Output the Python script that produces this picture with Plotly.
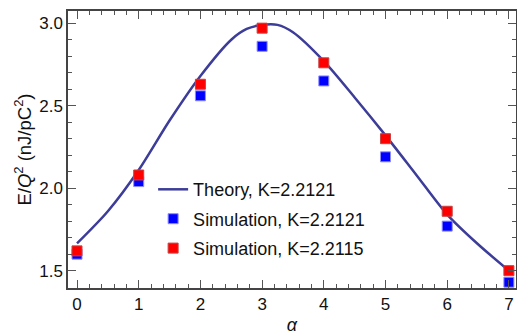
import plotly.graph_objects as go

# Data
alpha_sim = [0, 1, 2, 3, 4, 5, 6, 7]
sim_k2121 = [1.60, 2.04, 2.56, 2.86, 2.65, 2.19, 1.77, 1.43]
sim_k2115 = [1.62, 2.08, 2.63, 2.97, 2.76, 2.30, 1.86, 1.50]

alpha_theory = [0, 0.5, 1, 1.5, 2, 2.5, 2.75, 3, 3.25, 3.5, 4, 4.5, 5, 5.5, 6, 6.5, 7]
theory_k2121 = [1.665, 1.86, 2.11, 2.41, 2.68, 2.90, 2.965, 2.99, 2.99, 2.945, 2.77,
                2.55, 2.32, 2.08, 1.84, 1.66, 1.50]

FONT = "Liberation Sans, Arial, Helvetica, sans-serif"

fig = go.Figure()
fig.add_trace(go.Scatter(
    x=alpha_theory, y=theory_k2121, mode="lines",
    name="Theory, K=2.2121", legendgroup="a",
    line=dict(color="#3c3c99", width=2.5, shape="spline", smoothing=0.8),
))
fig.add_trace(go.Scatter(
    x=alpha_sim, y=sim_k2121, mode="markers",
    name="Simulation, K=2.2121", legendgroup="b",
    marker=dict(symbol="square", size=10, color="#0000ff",
                line=dict(color="#8c8cff", width=1)),
))
fig.add_trace(go.Scatter(
    x=alpha_sim, y=sim_k2115, mode="markers",
    name="Simulation, K=2.2115", legendgroup="c",
    marker=dict(symbol="square", size=10, color="#ff0000",
                line=dict(color="#c84040", width=1)),
))

axis_common = dict(
    showline=True, linecolor="#444444", linewidth=1.5, mirror="ticks",
    ticks="inside", ticklen=8, tickwidth=1.2, tickcolor="#555555",
    showgrid=False, zeroline=False,
    tickfont=dict(family=FONT, size=17, color="#111111"),
)

fig.update_xaxes(
    range=[-0.146, 7.115], dtick=1, tick0=0,
    minor=dict(ticks="inside", ticklen=4, dtick=0.2, tickcolor="#555555", tickwidth=1),
    title=dict(text="<i>α</i>", font=dict(family=FONT, size=18, color="#111111"), standoff=8),
    **axis_common,
)
fig.update_yaxes(
    range=[1.395, 3.074], dtick=0.5, tick0=0, tickformat=".1f",
    minor=dict(ticks="inside", ticklen=4, dtick=0.1, tickcolor="#555555", tickwidth=1),
    title=dict(text="E/<i>Q</i><sup>2</sup> (nJ/pC<sup>2</sup>)",
               font=dict(family=FONT, size=18.5, color="#111111"), standoff=3),
    **axis_common,
)

fig.update_layout(
    width=517, height=335,
    margin=dict(l=68, r=1, t=11, b=47, autoexpand=False),
    plot_bgcolor="white", paper_bgcolor="white",
    font=dict(family=FONT, size=18, color="#111111"),
    legend=dict(x=0.19, y=0.422, xanchor="left", yanchor="top",
                bgcolor="rgba(0,0,0,0)", tracegroupgap=3,
                font=dict(family=FONT, size=18, color="#111111")),
)

fig.write_html(
    "out.html",
    config={"displayModeBar": False},
    post_script="document.body.style.margin='0';document.body.style.padding='0';",
)
